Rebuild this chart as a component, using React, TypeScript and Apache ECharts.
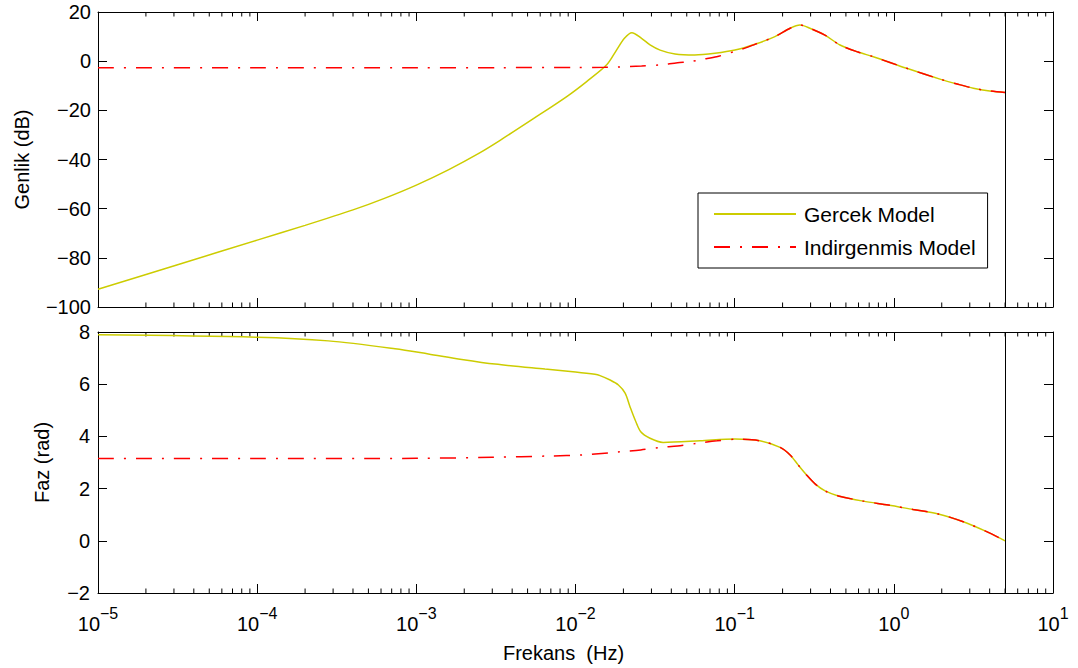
import React, { useEffect, useRef } from 'react';
import * as echarts from 'echarts';

// ---- Data ----
const gercekGenlikFrekans = [1e-5, 3.2e-5, 1e-4, 2e-4, 4e-4, 6.3e-4, 1e-3, 1.6e-3, 2.5e-3, 3.36e-3, 5.44e-3, 8.81e-3, 0.01175, 0.0157, 0.0181, 0.0203, 0.0226, 0.026, 0.0294, 0.034, 0.0422, 0.0562, 0.0752, 0.1005, 0.134, 0.179, 0.223, 0.257, 0.297, 0.369, 0.459, 0.596, 0.743, 1.205, 1.95, 2.5, 3.16, 4.0, 5.0];
const gercekGenlik = [-92.8, -82.7, -72.8, -66.8, -60.5, -55.8, -50.4, -44.1, -37.3, -32.2, -23.4, -14.4, -8.3, -1.5, 4.5, 9.3, 11.6, 9.3, 6.6, 4.5, 2.9, 2.5, 3.2, 4.5, 6.85, 10.0, 13.4, 14.7, 13.4, 10.6, 6.57, 3.7, 1.8, -2.9, -7.3, -9.3, -11.0, -12.1, -12.7];

const indirgenmisGenlikFrekans = [1e-5, 1e-4, 1e-3, 3.36e-3, 0.01, 0.0153, 0.026, 0.034, 0.0438, 0.0524, 0.0626, 0.0771, 0.1005, 0.116, 0.134, 0.179, 0.223, 0.257, 0.297, 0.369, 0.459, 0.596, 0.743, 1.205, 1.95, 2.5, 3.16, 4.0, 5.0];
const indirgenmisGenlik = [-2.66, -2.66, -2.65, -2.63, -2.6, -2.5, -2.0, -1.5, -0.6, -0.2, 0.75, 1.8, 4.0, 5.3, 6.85, 10.0, 13.4, 14.7, 13.4, 10.6, 6.57, 3.7, 1.8, -2.9, -7.3, -9.3, -11.0, -12.1, -12.7];

const gercekFazFrekans = [1e-5, 1e-4, 2.8e-4, 7.35e-4, 1.19e-3, 1.93e-3, 3.12e-3, 6.43e-3, 0.01, 0.01325, 0.01426, 0.0165, 0.0186, 0.0205, 0.022, 0.0237, 0.0257, 0.0294, 0.0355, 0.0605, 0.1005, 0.144, 0.193, 0.223, 0.251, 0.283, 0.32, 0.37, 0.448, 0.643, 0.923, 1.32, 1.9, 2.73, 3.83, 5.0];
const gercekFaz = [7.89, 7.8, 7.66, 7.36, 7.16, 6.95, 6.77, 6.58, 6.47, 6.38, 6.33, 6.16, 5.97, 5.66, 5.14, 4.63, 4.18, 3.93, 3.77, 3.83, 3.9, 3.83, 3.58, 3.29, 2.9, 2.52, 2.18, 1.91, 1.72, 1.52, 1.37, 1.2, 1.03, 0.73, 0.35, 0.0];

const indirgenmisFazFrekans = [1e-5, 1e-4, 1e-3, 3e-3, 6.9e-3, 0.0112, 0.019, 0.0257, 0.034, 0.0438, 0.0577, 0.0775, 0.1035, 0.144, 0.193, 0.223, 0.251, 0.283, 0.32, 0.37, 0.448, 0.643, 0.923, 1.32, 1.9, 2.73, 3.83, 5.0];
const indirgenmisFaz = [3.15, 3.15, 3.16, 3.2, 3.25, 3.29, 3.41, 3.48, 3.58, 3.63, 3.73, 3.83, 3.89, 3.83, 3.58, 3.29, 2.9, 2.52, 2.18, 1.91, 1.72, 1.52, 1.37, 1.2, 1.03, 0.73, 0.35, 0.0];

const kesimFrekansi = 5;
const seriesNames = ['Gercek Model', 'Indirgenmis Model'];
const xMin = 1e-5;
const xMax = 10;
const decadeExponents = [-5, -4, -3, -2, -1, 0];
const minorMultipliers = [2, 3, 4, 5, 6, 7, 8, 9];
const genlikRange = { min: -100, max: 20, interval: 20 };
const fazRange = { min: -2, max: 8, interval: 2 };

const FONT = '"Liberation Sans", Arial, Helvetica, sans-serif';
const YELLOW = '#cccc00';
const RED = '#ff0000';

const pairs = (xs: number[], ys: number[]) => xs.map((x, i) => [x, ys[i]]);
const minus = (s: string) => s.replace('-', '\u2212');

export default function App() {
  const ref = useRef<HTMLDivElement>(null);

  useEffect(() => {
    if (!ref.current) return;
    const chart = echarts.init(ref.current, null, { renderer: 'svg' });

    const minorTicks: number[][] = [];
    decadeExponents.forEach((e) => minorMultipliers.forEach((m) => minorTicks.push([m * Math.pow(10, e)])));

    const rich: any = {
      b: { fontSize: 20, lineHeight: 29, verticalAlign: 'bottom', fontFamily: FONT, color: '#000' },
      s: { fontSize: 16, lineHeight: 16, verticalAlign: 'top', fontFamily: FONT, color: '#000' },
    };

    const xBase = (gridIndex: number, position: 'top' | 'bottom', labels: boolean) => ({
      type: 'log',
      logBase: 10,
      gridIndex,
      position,
      min: xMin,
      max: xMax,
      splitNumber: 6,
      axisLine: { show: true, onZero: false, lineStyle: { color: '#000', width: 1 } },
      axisTick: { show: true, inside: true, length: 9, lineStyle: { color: '#000', width: 1 } },
      splitLine: { show: false },
      minorTick: { show: false },
      axisLabel: labels
        ? {
            show: true,
            margin: 12,
            showMinLabel: true,
            showMaxLabel: true,
            formatter: (v: number) => {
              const e = Math.round(Math.log10(v));
              const s = e < 0 ? '\u2212' + -e : String(e);
              return `{b|10}{s|${s}}`;
            },
            rich,
          }
        : { show: false },
    });

    const yBase = (gridIndex: number, position: 'left' | 'right', r: any, labels: boolean, name: string, nameGap: number, margin: number) => ({
      type: 'value',
      gridIndex,
      position,
      min: r.min,
      max: r.max,
      interval: r.interval,
      name: labels ? name : '',
      nameLocation: 'middle',
      nameGap,
      nameTextStyle: { fontSize: 20, color: '#000', fontFamily: FONT },
      axisLine: { show: true, onZero: false, lineStyle: { color: '#000', width: 1 } },
      axisTick: { show: true, inside: true, length: 9, lineStyle: { color: '#000', width: 1 } },
      splitLine: { show: false },
      axisLabel: labels
        ? { show: true, margin, fontSize: 20, color: '#000', fontFamily: FONT, formatter: (v: number) => minus(String(v)) }
        : { show: false },
    });

    const vline = {
      silent: true,
      symbol: ['none', 'none'],
      label: { show: false },
      lineStyle: { color: '#000', type: 'solid', width: 1 },
      data: [{ xAxis: kesimFrekansi }],
    };

    const tickSeries = (xAxisIndex: number, yAxisIndex: number, r: any) => ({
      type: 'custom',
      name: 'ticks' + xAxisIndex,
      xAxisIndex,
      yAxisIndex,
      silent: true,
      clip: false,
      data: minorTicks,
      encode: { x: 0 },
      renderItem: (params: any, api: any) => {
        const v = api.value(0);
        const b = api.coord([v, r.min]);
        const t = api.coord([v, r.max]);
        return {
          type: 'group',
          children: [
            { type: 'line', shape: { x1: b[0], y1: b[1], x2: b[0], y2: b[1] - 4.5 }, style: { stroke: '#000', lineWidth: 1 } },
            { type: 'line', shape: { x1: t[0], y1: t[1], x2: t[0], y2: t[1] + 4.5 }, style: { stroke: '#000', lineWidth: 1 } },
          ],
        };
      },
    });

    const lineSeries = (name: string, data: number[][], xAxisIndex: number, yAxisIndex: number, red: boolean, withVline: boolean) => ({
      type: 'line',
      name,
      xAxisIndex,
      yAxisIndex,
      data,
      symbol: 'none',
      showSymbol: false,
      smooth: 0.3,
      lineStyle: red
        ? { color: RED, width: 1.5, type: [16, 10, 2, 10] }
        : { color: YELLOW, width: 1.5, type: 'solid' },
      itemStyle: { color: red ? RED : YELLOW },
      markLine: withVline ? vline : undefined,
      z: red ? 3 : 2,
    });

    chart.setOption({
      animation: false,
      backgroundColor: '#fff',
      grid: [
        { left: 98, top: 12, width: 955, height: 295, containLabel: false },
        { left: 98, top: 332, width: 955, height: 261, containLabel: false },
      ],
      xAxis: [
        xBase(0, 'bottom', false),
        xBase(0, 'top', false),
        {
          ...xBase(1, 'bottom', true),
          name: 'Frekans  (Hz)',
          nameLocation: 'middle',
          nameGap: 50,
          nameTextStyle: { fontSize: 20, color: '#000', fontFamily: FONT, padding: [0, 24, 0, 0] },
        },
        xBase(1, 'top', false),
      ],
      yAxis: [
        yBase(0, 'left', genlikRange, true, 'Genlik (dB)', 66, 7),
        yBase(0, 'right', genlikRange, false, '', 0, 0),
        yBase(1, 'left', fazRange, true, 'Faz (rad)', 46, 8),
        yBase(1, 'right', fazRange, false, '', 0, 0),
      ],
      legend: {
        data: seriesNames,
        orient: 'vertical',
        left: 698,
        top: 193,
        padding: [9, 12, 9, 15],
        itemWidth: 82,
        itemHeight: 14,
        itemGap: 9,
        borderColor: '#000',
        borderWidth: 1,
        backgroundColor: '#fff',
        selectedMode: false,
        itemStyle: { opacity: 0 },
        textStyle: { fontSize: 21, color: '#000', fontFamily: FONT, lineHeight: 24, padding: [0, 0, 0, 3] },
      },
      series: [
        tickSeries(0, 0, genlikRange),
        tickSeries(2, 2, fazRange),
        lineSeries(seriesNames[0], pairs(gercekGenlikFrekans, gercekGenlik), 0, 0, false, true),
        lineSeries(seriesNames[1], pairs(indirgenmisGenlikFrekans, indirgenmisGenlik), 0, 0, true, false),
        lineSeries(seriesNames[0], pairs(gercekFazFrekans, gercekFaz), 2, 2, false, true),
        lineSeries(seriesNames[1], pairs(indirgenmisFazFrekans, indirgenmisFaz), 2, 2, true, false),
      ],
    });

    return () => chart.dispose();
  }, []);

  return (
    <div
      ref={ref}
      style={{ position: 'absolute', left: 0, top: 0, width: 1078, height: 668, background: '#fff' }}
    />
  );
}
